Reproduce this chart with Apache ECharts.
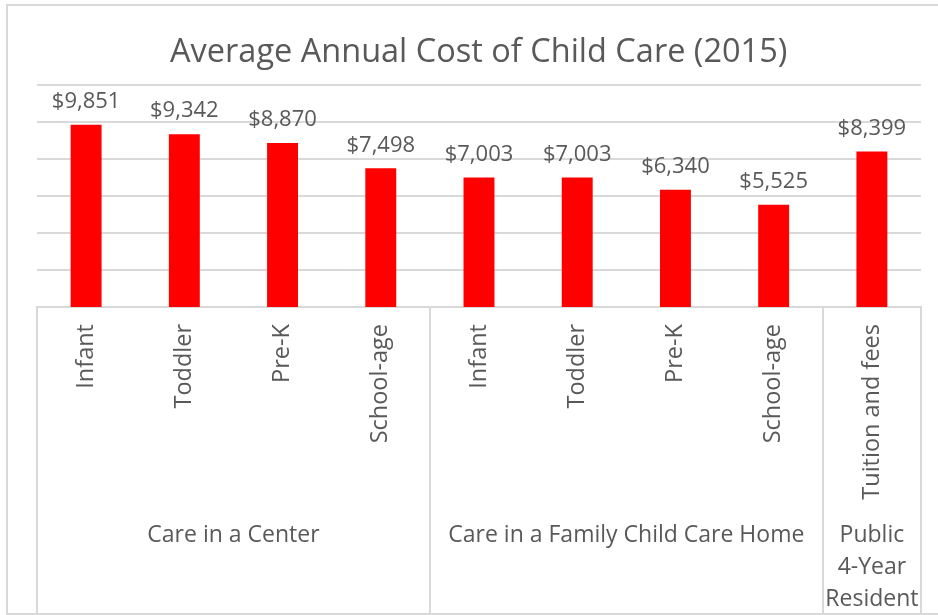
<!DOCTYPE html>
<html>
<head>
<meta charset="utf-8">
<script src="https://cdn.jsdelivr.net/npm/echarts@6/dist/echarts.min.js"></script>
<style>html,body{margin:0;padding:0;background:#fff;}#chart{width:938px;height:615px;}</style>
</head>
<body>
<div id="chart"></div>
<script>
const titleText = 'Average Annual Cost of Child Care (2015)';
const categories = ['Infant', 'Toddler', 'Pre-K', 'School-age', 'Infant', 'Toddler', 'Pre-K', 'School-age', 'Tuition and fees'];
const values = [9851, 9342, 8870, 7498, 7003, 7003, 6340, 5525, 8399];
const groups = ['Care in a Center', 'Care in a Family Child Care Home', 'Public\n4-Year\nResident'];
const groupSizes = [4, 4, 1];

// Build half-step group axis: 2*N+1 points; boundaries & centers in half units
const halfCount = categories.length * 2 + 1;
const groupAxisData = new Array(halfCount).fill('');
const boundaryIdx = [0];
let acc = 0;
groupSizes.forEach((s, i) => {
  groupAxisData[acc * 2 + s] = groups[i];
  acc += s;
  boundaryIdx.push(acc * 2);
});
const labelIdx = [];
acc = 0;
groupSizes.forEach(s => { labelIdx.push(acc * 2 + s); acc += s; });

const gray = '#595959';
const lineGray = '#D9D9D9';
const font = 'Open Sans';

const chart = echarts.init(document.getElementById('chart'), null, {renderer: 'canvas'});
chart.setOption({
  animation: false,
  backgroundColor: '#fff',
  textStyle: {fontFamily: font},
  title: {
    text: titleText,
    left: 165,
    top: 31,
    padding: 5,
    textStyle: {fontFamily: font, fontSize: 32.5, fontWeight: 'normal', color: gray}
  },
  graphic: [{
    type: 'rect',
    shape: {x: 7, y: 5, width: 945, height: 609},
    style: {fill: 'none', stroke: lineGray, lineWidth: 2},
    silent: true
  }],
  grid: {left: 37, right: 17, top: 85, bottom: 307.5, containLabel: false},
  xAxis: [{
    type: 'category',
    data: categories,
    position: 'bottom',
    axisLine: {show: true, lineStyle: {color: lineGray, width: 2}},
    axisTick: {show: false},
    axisLabel: {
      rotate: 90,
      margin: 17,
      color: gray,
      fontSize: 23.5,
      fontFamily: font,
      interval: 0
    }
  }, {
    type: 'category',
    data: groupAxisData,
    boundaryGap: false,
    position: 'bottom',
    axisLine: {show: true, lineStyle: {color: lineGray, width: 2}},
    axisTick: {
      show: true,
      length: 310,
      interval: (idx) => boundaryIdx.includes(idx),
      lineStyle: {color: lineGray, width: 2}
    },
    axisLabel: {
      interval: (idx) => labelIdx.includes(idx),
      margin: 212,
      color: gray,
      fontSize: 23,
      fontFamily: font,
      lineHeight: 32,
      align: 'center',
      verticalAlign: 'top'
    }
  }],
  yAxis: {
    type: 'value',
    min: 0,
    max: 12000,
    interval: 2000,
    axisLine: {show: false},
    axisTick: {show: false},
    axisLabel: {show: false},
    splitLine: {show: true, lineStyle: {color: lineGray, width: 2}}
  },
  series: [{
    type: 'bar',
    xAxisIndex: 0,
    data: values,
    barWidth: '31.5%',
    itemStyle: {color: '#FF0000'},
    label: {
      show: true,
      position: 'top',
      distance: 12,
      color: gray,
      fontSize: 22,
      fontFamily: font,
      formatter: p => '$' + p.value.toLocaleString('en-US')
    }
  }]
});
</script>
</body>
</html>
